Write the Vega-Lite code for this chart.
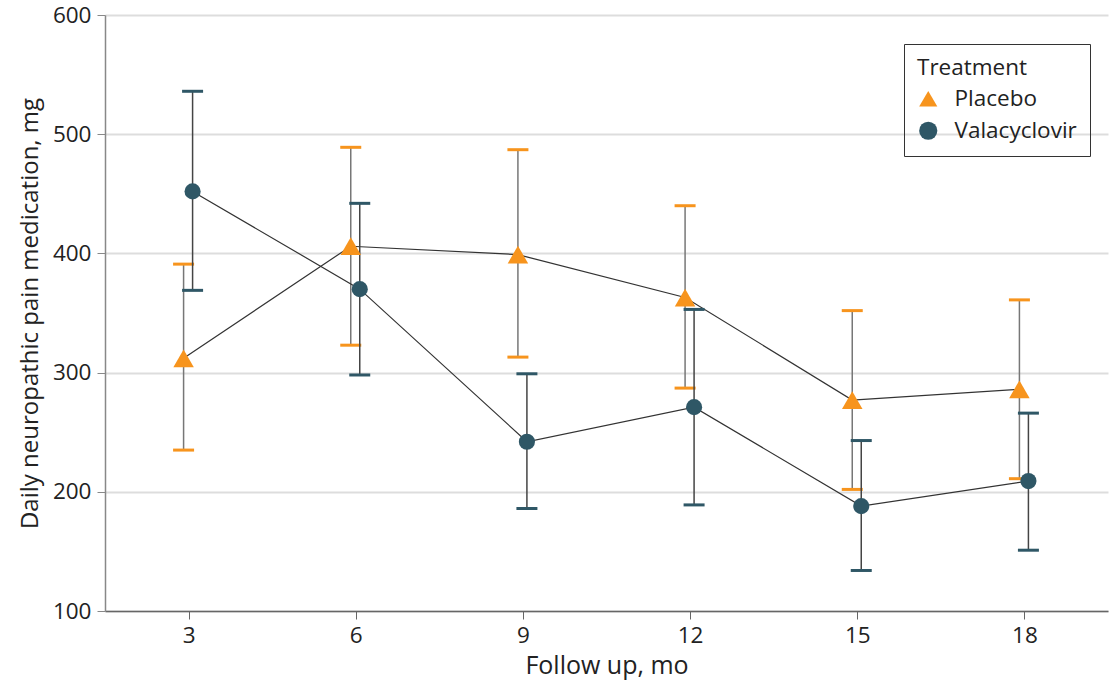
{
  "$schema": "https://vega.github.io/schema/vega-lite/v6.json",
  "autosize": "none",
  "width": 1003,
  "height": 596,
  "padding": {"left": 105, "top": 15, "right": 6, "bottom": 79},
  "background": "white",
  "config": {
    "font": "Open Sans",
    "view": {"stroke": null}
  },
  "data": {
    "values": [
      {"month": 3, "treatment": "Placebo", "mean": 312, "lower": 235, "upper": 391},
      {"month": 6, "treatment": "Placebo", "mean": 406, "lower": 323, "upper": 489},
      {"month": 9, "treatment": "Placebo", "mean": 399, "lower": 313, "upper": 487},
      {"month": 12, "treatment": "Placebo", "mean": 363, "lower": 287, "upper": 440},
      {"month": 15, "treatment": "Placebo", "mean": 277, "lower": 202, "upper": 352},
      {"month": 18, "treatment": "Placebo", "mean": 286, "lower": 211, "upper": 361},
      {"month": 3, "treatment": "Valacyclovir", "mean": 452, "lower": 369, "upper": 536},
      {"month": 6, "treatment": "Valacyclovir", "mean": 370, "lower": 298, "upper": 442},
      {"month": 9, "treatment": "Valacyclovir", "mean": 242, "lower": 186, "upper": 299},
      {"month": 12, "treatment": "Valacyclovir", "mean": 271, "lower": 189, "upper": 353},
      {"month": 15, "treatment": "Valacyclovir", "mean": 188, "lower": 134, "upper": 243},
      {"month": 18, "treatment": "Valacyclovir", "mean": 209, "lower": 151, "upper": 266}
    ]
  },
  "encoding": {
    "x": {
      "field": "month", "type": "quantitative",
      "scale": {"domain": [1.5, 19.5], "nice": false, "zero": false},
      "axis": {"values": [3, 6, 9, 12, 15, 18], "grid": false, "title": "Follow up, mo", "domainColor": "#666", "tickColor": "#666", "tickSize": 8, "labelPadding": 5, "titlePadding": 7, "domainWidth": 1.5, "labelFont": "Open Sans", "titleFont": "Open Sans", "labelFontSize": 22.5, "titleFontSize": 25, "labelColor": "#222", "titleColor": "#222", "titleFontWeight": "normal"}
    },
    "y": {
      "field": "mean", "type": "quantitative",
      "scale": {"domain": [100, 600], "nice": false, "zero": false},
      "axis": {"values": [100, 200, 300, 400, 500, 600], "grid": true, "gridColor": "#ddd", "gridWidth": 2, "title": "Daily neuropathic pain medication, mg", "domainColor": "#888", "tickColor": "#888", "tickSize": 8, "labelPadding": 6, "titlePadding": 10, "domainWidth": 1.5, "labelFont": "Open Sans", "titleFont": "Open Sans", "labelFontSize": 22.5, "titleFontSize": 24, "labelColor": "#222", "titleColor": "#222", "titleFontWeight": "normal"}
    }
  },
  "layer": [
    {
      "transform": [{"filter": "datum.treatment === 'Placebo'"}],
      "layer": [
        {"mark": {"type": "line", "color": "#333", "strokeWidth": 1.2, "xOffset": -5}},
        {"mark": {"type": "rule", "color": "#777", "strokeWidth": 1.5, "xOffset": -5}, "encoding": {"y": {"field": "lower", "type": "quantitative"}, "y2": {"field": "upper"}}},
        {"mark": {"type": "tick", "orient": "horizontal", "color": "#F7941D", "size": 21, "thickness": 3, "xOffset": -5, "opacity": 1}, "encoding": {"y": {"field": "lower", "type": "quantitative"}}},
        {"mark": {"type": "tick", "orient": "horizontal", "color": "#F7941D", "size": 21, "thickness": 3, "xOffset": -5, "opacity": 1}, "encoding": {"y": {"field": "upper", "type": "quantitative"}}}
      ]
    },
    {
      "transform": [{"filter": "datum.treatment === 'Valacyclovir'"}],
      "layer": [
        {"mark": {"type": "line", "color": "#333", "strokeWidth": 1.2, "xOffset": 4}},
        {"mark": {"type": "rule", "color": "#444", "strokeWidth": 1.5, "xOffset": 4}, "encoding": {"y": {"field": "lower", "type": "quantitative"}, "y2": {"field": "upper"}}},
        {"mark": {"type": "tick", "orient": "horizontal", "color": "#2F5766", "size": 21, "thickness": 3, "xOffset": 4, "opacity": 1}, "encoding": {"y": {"field": "lower", "type": "quantitative"}}},
        {"mark": {"type": "tick", "orient": "horizontal", "color": "#2F5766", "size": 21, "thickness": 3, "xOffset": 4, "opacity": 1}, "encoding": {"y": {"field": "upper", "type": "quantitative"}}}
      ]
    },
    {
      "transform": [{"filter": "datum.treatment === 'Placebo'"}],
      "mark": {"type": "point", "filled": true, "opacity": 1, "size": 420, "xOffset": -5},
      "encoding": {
        "color": {"field": "treatment", "type": "nominal", "scale": {"domain": ["Placebo", "Valacyclovir"], "range": ["#F7941D", "#2F5766"]}, "title": "Treatment"},
        "shape": {"field": "treatment", "type": "nominal", "scale": {"domain": ["Placebo", "Valacyclovir"], "range": ["triangle-up", "circle"]}, "title": "Treatment"}
      }
    },
    {
      "transform": [{"filter": "datum.treatment === 'Valacyclovir'"}],
      "mark": {"type": "point", "filled": true, "opacity": 1, "size": 260, "xOffset": 4},
      "encoding": {
        "color": {"field": "treatment", "type": "nominal", "title": "Treatment",
          "legend": {"orient": "none", "legendX": 799, "legendY": 29, "title": "Treatment", "titleFont": "Open Sans", "labelFont": "Open Sans", "titleFontSize": 22.5, "titleFontWeight": "normal", "titleColor": "#222", "labelFontSize": 22.5, "labelColor": "#222", "symbolSize": 330, "strokeColor": "#333", "padding": 13, "rowPadding": 9, "titlePadding": 8, "labelOffset": 15, "symbolOpacity": 1}},
        "shape": {"field": "treatment", "type": "nominal", "title": "Treatment"}
      }
    }
  ]
}
